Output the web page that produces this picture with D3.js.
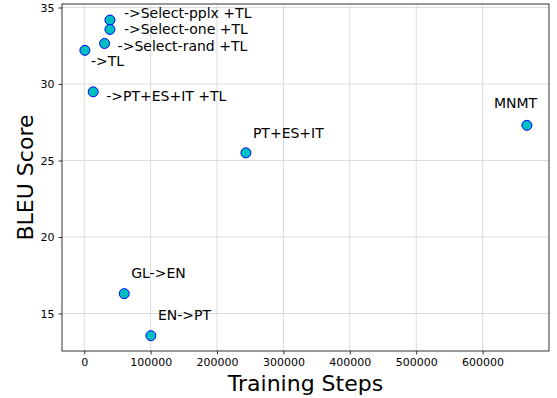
<!DOCTYPE html>
<html>
<head>
<meta charset="utf-8">
<script src="https://cdn.jsdelivr.net/npm/d3@7"></script>
<style>
  body { margin: 0; background: #fff; }
  text { font-family: "DejaVu Sans", sans-serif; }
</style>
</head>
<body>
<div id="chart"></div>
<script>
// data
var labels = ["->Select-pplx +TL", "->Select-one +TL", "->Select-rand +TL", "->TL",
              "->PT+ES+IT +TL", "PT+ES+IT", "MNMT", "GL->EN", "EN->PT"];
var steps = [38700, 38700, 30700, 1000, 13500, 243500, 666700, 60200, 100400];
var bleu = [34.18, 33.57, 32.65, 32.2, 29.49, 25.5, 27.3, 16.3, 13.55];
// where each label sits relative to its point (px)
var labelDx = [14, 14, 13, 6, 13, 7, -33, 7, 7];
var labelDy = [-7, 0, 3, 11, 4, -20, -22, -21, -21];

var xTicks = [0, 100000, 200000, 300000, 400000, 500000, 600000];
var yTicks = [15, 20, 25, 30, 35];

var margin = {top: 4, right: 8, bottom: 47, left: 62},
    W = 557, H = 398,
    width = W - margin.left - margin.right,
    height = H - margin.top - margin.bottom;

var x = d3.scaleLinear().domain([-33500, 700000]).range([0, width]);
var y = d3.scaleLinear().domain([12.55, 35.23]).range([height, 0]);

var svg = d3.select("#chart").append("svg")
    .attr("width", W).attr("height", H)
  .append("g")
    .attr("transform", "translate(" + margin.left + "," + margin.top + ")");

// grid
svg.append("g").selectAll("line").data(xTicks).enter().append("line")
    .attr("x1", function(d) { return x(d); }).attr("x2", function(d) { return x(d); })
    .attr("y1", 0).attr("y2", height)
    .attr("stroke", "#dcdcdc").attr("stroke-width", 1);
svg.append("g").selectAll("line").data(yTicks).enter().append("line")
    .attr("y1", function(d) { return y(d); }).attr("y2", function(d) { return y(d); })
    .attr("x1", 0).attr("x2", width)
    .attr("stroke", "#dcdcdc").attr("stroke-width", 1);

// axes
var xAxis = svg.append("g")
    .attr("transform", "translate(0," + height + ")")
    .call(d3.axisBottom(x).tickValues(xTicks).tickFormat(d3.format("d")).tickSizeOuter(0).tickSize(3.5).tickPadding(4));
var yAxis = svg.append("g")
    .call(d3.axisLeft(y).tickValues(yTicks).tickSizeOuter(0).tickSize(3.5).tickPadding(4));
[xAxis, yAxis].forEach(function(a) {
    a.select(".domain").remove();
    a.selectAll("text").attr("font-size", 11).attr("font-family", "DejaVu Sans").attr("fill", "#000");
    a.selectAll("line").attr("stroke", "#000").attr("stroke-width", 0.8);
});

// frame
svg.append("rect")
    .attr("width", width).attr("height", height)
    .attr("fill", "none").attr("stroke", "#000").attr("stroke-width", 0.8);

// points
svg.selectAll("circle.pt")
    .data(steps).enter().append("circle")
    .attr("class", "pt")
    .attr("cx", function(d) { return x(d); })
    .attr("cy", function(d, i) { return y(bleu[i]); })
    .attr("r", 5)
    .attr("fill", "#00bfbf")
    .attr("stroke", "#0000ff")
    .attr("stroke-width", 1);

// annotations
svg.selectAll("text.lbl")
    .data(labels).enter().append("text")
    .attr("class", "lbl")
    .attr("x", function(d, i) { return x(steps[i]) + labelDx[i]; })
    .attr("y", function(d, i) { return y(bleu[i]) + labelDy[i]; })
    .attr("dy", "0.35em")
    .attr("font-size", 14)
    .text(function(d) { return d; });

// axis titles
svg.append("text")
    .attr("x", width / 2).attr("y", height + 40)
    .attr("text-anchor", "middle")
    .attr("font-size", 22)
    .text("Training Steps");
svg.append("text")
    .attr("transform", "translate(" + (-29) + "," + (height / 2) + ") rotate(-90)")
    .attr("text-anchor", "middle")
    .attr("font-size", 22)
    .text("BLEU Score");
</script>
</body>
</html>
